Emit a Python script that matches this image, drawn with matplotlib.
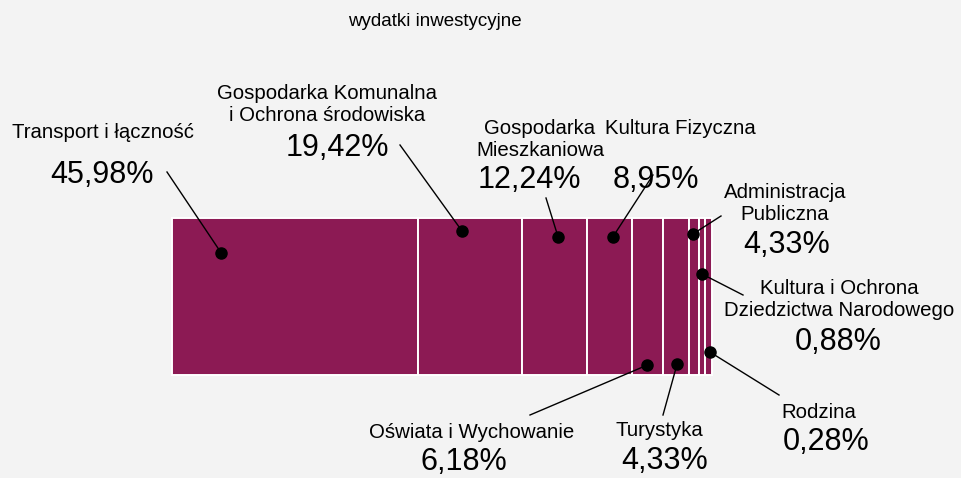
import numpy as np
import matplotlib.pyplot as plt

plt.rcParams["font.family"] = ["Liberation Sans", "DejaVu Sans"]

# categories and the printed shares
categories = [
    "Transport i łączność",
    "Gospodarka Komunalna\ni Ochrona środowiska",
    "Gospodarka\nMieszkaniowa",
    "Kultura Fizyczna",
    "Oświata i Wychowanie",
    "Turystyka",
    "Administracja\nPubliczna",
    "Kultura i Ochrona\nDziedzictwa Narodowego",
    "Rodzina",
]
percent = [45.98, 19.42, 12.24, 8.95, 6.18, 4.33, 4.33, 0.88, 0.28]
# segment lengths as drawn in the bar (share of the bar)
bar_share = [45.6, 19.3, 12.0, 8.3, 5.7, 4.8, 1.9, 1.1, 1.3]

BAR_COLOR = "#8c1a54"
BG = "#f3f3f3"

# layout (pixel space): name xy, pct xy, dot fraction in segment, dot y, leader end
layout = [
    ((103, 133), (102, 175), 0.20, 253, (167, 172)),
    ((327, 104), (337, 148), 0.42, 231, (400, 145)),
    ((540, 140), (529, 180), 0.55, 237, (546, 198)),
    ((680, 128), (656, 180), 0.57, 237, (653, 175)),
    ((472, 432), (464, 462), 0.50, 365, (530, 415)),
    ((659, 430), (665, 461), 0.55, 364, (663, 415)),
    ((785, 204), (787, 245), 0.40, 234, (721, 216)),
    ((839, 300), (838, 342), 0.50, 274, (743, 295)),
    ((819, 413), (826, 442), 0.70, 352, (779, 395)),
]


def main():
    fig = plt.figure(figsize=(9.62, 4.78), dpi=100, facecolor=BG)
    ax = fig.add_axes([0, 0, 1, 1])
    ax.set_xlim(0, 962)
    ax.set_ylim(478, 0)
    ax.axis("off")
    ax.set_facecolor(BG)

    x0, bar_px = 172, 540
    y_top, y_bot = 218, 375
    scale = bar_px / sum(bar_share)
    widths = np.array(bar_share) * scale
    lefts = x0 + np.concatenate([[0], np.cumsum(widths)[:-1]])

    ax.barh((y_top + y_bot) / 2, widths, left=lefts, height=y_bot - y_top,
            color=BAR_COLOR, edgecolor="white", linewidth=1.4, zorder=2)

    ax.text(435, 21, "wydatki inwestycyjne", ha="center", va="center", fontsize=13.5)

    for name, pct, left, w, (name_xy, pct_xy, frac, dot_y, end) in zip(
            categories, percent, lefts, widths, layout):
        dot_x = left + frac * w
        ax.plot([dot_x, end[0]], [dot_y, end[1]], color="black", lw=1.0, zorder=3)
        ax.plot(dot_x, dot_y, "o", color="black", ms=8, zorder=4)
        ax.text(name_xy[0], name_xy[1], name, ha="center", va="center",
                fontsize=14.7, linespacing=1.2)
        ax.text(pct_xy[0], pct_xy[1], f"{pct:.2f}".replace(".", ",") + "%",
                ha="center", va="center", fontsize=22)

    fig.savefig("out.png", dpi=100, facecolor=BG)
    plt.close(fig)


if __name__ == "__main__":
    main()
